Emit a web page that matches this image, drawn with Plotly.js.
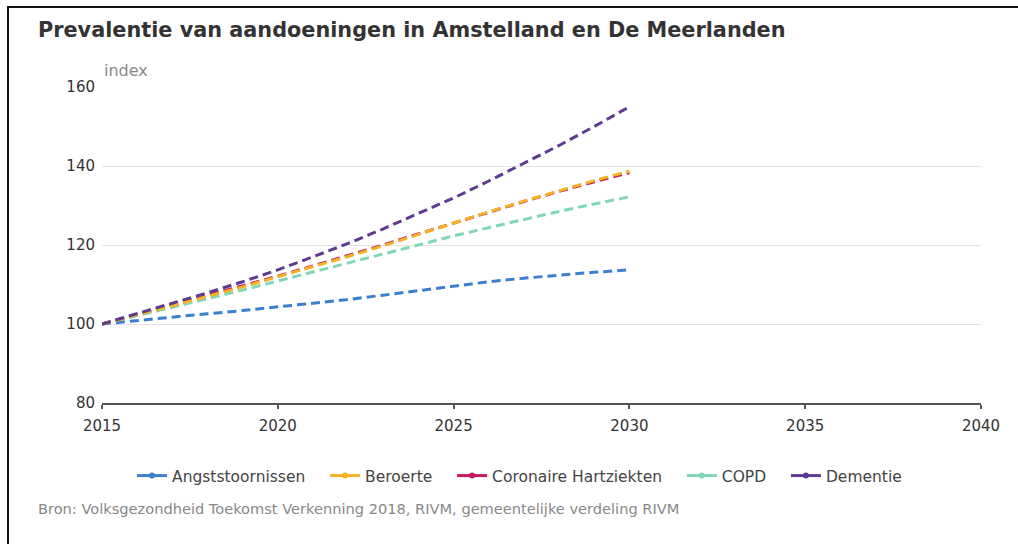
<!DOCTYPE html>
<html>
<head>
<meta charset="utf-8">
<script src="https://cdn.plot.ly/plotly-3.0.1.min.js"></script>
<style>
  html, body { margin: 0; padding: 0; background: #fff; }
  #wrap { position: relative; width: 1018px; height: 544px; overflow: hidden; }
  #chart { position: absolute; left: 0; top: 0; width: 1018px; height: 544px; }
  #frame { position: absolute; left: 7px; top: 6px; width: 1030px; height: 560px;
           border-top: 2px solid #111; border-left: 2px solid #111; pointer-events: none; }
</style>
</head>
<body>
<div id="wrap">
  <div id="chart"></div>
  <div id="frame"></div>
</div>
<script>
const years = [2015, 2016, 2017, 2018, 2019, 2020, 2021, 2022, 2023, 2024, 2025, 2026, 2027, 2028, 2029, 2030];

const seriesNames = ["Angststoornissen", "Beroerte", "Coronaire Hartziekten", "COPD", "Dementie"];

const angststoornissen = [100, 100.9, 101.8, 102.6, 103.4, 104.3, 105.2, 106.2, 107.3, 108.4, 109.6, 110.7, 111.6, 112.4, 113.1, 113.7];
const beroerte = [100, 102.3, 104.6, 107.0, 109.4, 111.9, 114.5, 117.1, 119.8, 122.7, 125.6, 128.4, 131.1, 133.8, 136.3, 138.7];
const coronaireHartziekten = [100, 102.4, 104.8, 107.2, 109.6, 112.1, 114.7, 117.3, 120.0, 122.8, 125.6, 128.3, 131.0, 133.6, 136.0, 138.3];
const copd = [100, 102.1, 104.2, 106.4, 108.6, 110.9, 113.2, 115.5, 117.8, 120.1, 122.3, 124.4, 126.5, 128.5, 130.4, 132.2];
const dementie = [100, 102.6, 105.2, 107.9, 110.7, 113.7, 117.0, 120.4, 124.1, 127.9, 131.9, 136.2, 140.6, 145.2, 150.0, 155.0];

const seriesValues = [angststoornissen, beroerte, coronaireHartziekten, copd, dementie];
const colors = ["#3d7fcf", "#f3b324", "#c5185e", "#82d6b6", "#5e3b8e"];

const xTicks = [2015, 2020, 2025, 2030, 2035, 2040];
const yTicks = [80, 100, 120, 140, 160];

const FONT = "DejaVu Sans, Verdana, sans-serif";
const PAD = "\u00a0\u00a0\u00a0";

const traces = [];
// draw order: lower lines first so upper appear on top
const order = [0, 3, 2, 1, 4];
order.forEach(i => {
  traces.push({
    x: years, y: seriesValues[i], type: "scatter", mode: "lines",
    name: seriesNames[i], showlegend: false, hoverinfo: "x+y+name",
    line: { color: colors[i], width: 3, dash: "9px,5px" }
  });
});
// legend entries
seriesNames.forEach((n, i) => {
  traces.push({
    x: [null], y: [null], type: "scatter", mode: "lines+markers",
    name: n + (i < seriesNames.length - 1 ? PAD : ""), showlegend: true,
    line: { color: colors[i], width: 3 },
    marker: { color: colors[i], size: 6 }
  });
});

const layout = {
  width: 1018, height: 544,
  paper_bgcolor: "rgba(0,0,0,0)", plot_bgcolor: "#fff",
  margin: { l: 102, r: 37, t: 87, b: 141 },
  font: { family: FONT, size: 13, color: "#333" },
  title: {
    text: "<b>Prevalentie van aandoeningen in Amstelland en De Meerlanden</b>",
    font: { family: FONT, size: 20.8, color: "#333" },
    x: 38 / 1018, xref: "container", xanchor: "left",
    y: 1 - 30 / 544, yref: "container", yanchor: "middle"
  },
  xaxis: {
    range: [2015, 2040], tickvals: xTicks, ticktext: xTicks.map(String),
    showgrid: false, zeroline: false,
    showline: true, linecolor: "#555", linewidth: 2,
    ticks: "outside", ticklen: 4, tickcolor: "#555", tickwidth: 2,
    tickfont: { family: FONT, size: 15, color: "#333" },
    ticklabelstandoff: 4,
    fixedrange: true
  },
  yaxis: {
    range: [80, 160], tickvals: yTicks, ticktext: yTicks.map(String),
    showgrid: true, gridcolor: "#e3e3e3", gridwidth: 1,
    zeroline: false, showline: false, ticks: "",
    tickfont: { family: FONT, size: 15, color: "#333" },
    ticklabelstandoff: 6,
    fixedrange: true
  },
  legend: {
    orientation: "h", x: 0.475, xanchor: "center", y: -0.231, yanchor: "middle",
    font: { family: FONT, size: 15.5, color: "#444" },
    itemwidth: 30, traceorder: "normal"
  },
  annotations: [
    {
      text: "index", xref: "paper", yref: "paper", x: 0, y: 1.015,
      xanchor: "left", yanchor: "bottom", showarrow: false,
      font: { family: FONT, size: 16, color: "#888" }
    },
    {
      text: "Bron: Volksgezondheid Toekomst Verkenning 2018, RIVM, gemeentelijke verdeling RIVM",
      xref: "paper", yref: "paper", x: (36 - 102) / 879, y: -(508 - 403) / 316,
      xanchor: "left", yanchor: "middle", showarrow: false,
      font: { family: FONT, size: 14.6, color: "#888" }
    }
  ]
};

Plotly.newPlot("chart", traces, layout, { displayModeBar: false, staticPlot: true });
</script>
</body>
</html>
